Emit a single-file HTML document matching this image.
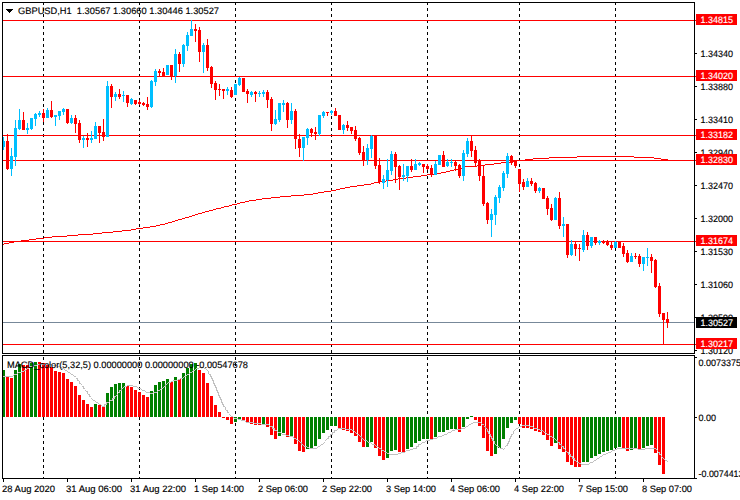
<!DOCTYPE html>
<html><head><meta charset="utf-8"><title>GBPUSD,H1</title>
<style>html,body{margin:0;padding:0;background:#fff;}body{width:740px;height:500px;overflow:hidden;font-family:"Liberation Sans",sans-serif;}svg{display:block}</style></head>
<body>
<svg width="740" height="500" viewBox="0 0 740 500" shape-rendering="crispEdges">
<rect x="0" y="0" width="740" height="500" fill="#fff"/>
<line x1="43.5" y1="2" x2="43.5" y2="353" stroke="#000" stroke-width="1" stroke-dasharray="3,3"/>
<line x1="43.5" y1="355" x2="43.5" y2="478" stroke="#000" stroke-width="1" stroke-dasharray="3,3" stroke-dashoffset="4"/>
<line x1="139.5" y1="2" x2="139.5" y2="353" stroke="#000" stroke-width="1" stroke-dasharray="3,3"/>
<line x1="139.5" y1="355" x2="139.5" y2="478" stroke="#000" stroke-width="1" stroke-dasharray="3,3" stroke-dashoffset="4"/>
<line x1="235.5" y1="2" x2="235.5" y2="353" stroke="#000" stroke-width="1" stroke-dasharray="3,3"/>
<line x1="235.5" y1="355" x2="235.5" y2="478" stroke="#000" stroke-width="1" stroke-dasharray="3,3" stroke-dashoffset="4"/>
<line x1="331.5" y1="2" x2="331.5" y2="353" stroke="#000" stroke-width="1" stroke-dasharray="3,3"/>
<line x1="331.5" y1="355" x2="331.5" y2="478" stroke="#000" stroke-width="1" stroke-dasharray="3,3" stroke-dashoffset="4"/>
<line x1="427.5" y1="2" x2="427.5" y2="353" stroke="#000" stroke-width="1" stroke-dasharray="3,3"/>
<line x1="427.5" y1="355" x2="427.5" y2="478" stroke="#000" stroke-width="1" stroke-dasharray="3,3" stroke-dashoffset="4"/>
<line x1="519.5" y1="2" x2="519.5" y2="353" stroke="#000" stroke-width="1" stroke-dasharray="3,3"/>
<line x1="519.5" y1="355" x2="519.5" y2="478" stroke="#000" stroke-width="1" stroke-dasharray="3,3" stroke-dashoffset="4"/>
<line x1="615.5" y1="2" x2="615.5" y2="353" stroke="#000" stroke-width="1" stroke-dasharray="3,3"/>
<line x1="615.5" y1="355" x2="615.5" y2="478" stroke="#000" stroke-width="1" stroke-dasharray="3,3" stroke-dashoffset="4"/>
<rect x="3" y="20" width="691" height="1" fill="#ff0000"/>
<rect x="3" y="76" width="691" height="1" fill="#ff0000"/>
<rect x="3" y="135" width="691" height="1" fill="#ff0000"/>
<rect x="3" y="160" width="691" height="1" fill="#ff0000"/>
<rect x="3" y="241" width="691" height="1" fill="#ff0000"/>
<rect x="3" y="344" width="691" height="1" fill="#ff0000"/>
<rect x="3" y="244" width="1" height="1" fill="#ff0000"/>
<rect x="4" y="243" width="5" height="1" fill="#ff0000"/>
<rect x="9" y="242" width="5" height="1" fill="#ff0000"/>
<rect x="14" y="241" width="7" height="1" fill="#ff0000"/>
<rect x="21" y="240" width="8" height="1" fill="#ff0000"/>
<rect x="29" y="239" width="7" height="1" fill="#ff0000"/>
<rect x="36" y="238" width="8" height="1" fill="#ff0000"/>
<rect x="44" y="237" width="8" height="1" fill="#ff0000"/>
<rect x="52" y="236" width="15" height="1" fill="#ff0000"/>
<rect x="67" y="235" width="11" height="1" fill="#ff0000"/>
<rect x="78" y="234" width="15" height="1" fill="#ff0000"/>
<rect x="93" y="233" width="9" height="1" fill="#ff0000"/>
<rect x="102" y="232" width="11" height="1" fill="#ff0000"/>
<rect x="113" y="231" width="9" height="1" fill="#ff0000"/>
<rect x="122" y="230" width="9" height="1" fill="#ff0000"/>
<rect x="131" y="229" width="5" height="1" fill="#ff0000"/>
<rect x="136" y="228" width="7" height="1" fill="#ff0000"/>
<rect x="143" y="227" width="7" height="1" fill="#ff0000"/>
<rect x="150" y="226" width="6" height="1" fill="#ff0000"/>
<rect x="156" y="225" width="4" height="1" fill="#ff0000"/>
<rect x="160" y="224" width="5" height="1" fill="#ff0000"/>
<rect x="165" y="223" width="3" height="1" fill="#ff0000"/>
<rect x="168" y="222" width="4" height="1" fill="#ff0000"/>
<rect x="172" y="221" width="3" height="1" fill="#ff0000"/>
<rect x="175" y="220" width="3" height="1" fill="#ff0000"/>
<rect x="178" y="219" width="4" height="1" fill="#ff0000"/>
<rect x="182" y="218" width="3" height="1" fill="#ff0000"/>
<rect x="185" y="217" width="4" height="1" fill="#ff0000"/>
<rect x="189" y="216" width="3" height="1" fill="#ff0000"/>
<rect x="192" y="215" width="3" height="1" fill="#ff0000"/>
<rect x="195" y="214" width="3" height="1" fill="#ff0000"/>
<rect x="198" y="213" width="4" height="1" fill="#ff0000"/>
<rect x="202" y="212" width="3" height="1" fill="#ff0000"/>
<rect x="205" y="211" width="4" height="1" fill="#ff0000"/>
<rect x="209" y="210" width="4" height="1" fill="#ff0000"/>
<rect x="213" y="209" width="3" height="1" fill="#ff0000"/>
<rect x="216" y="208" width="5" height="1" fill="#ff0000"/>
<rect x="221" y="207" width="3" height="1" fill="#ff0000"/>
<rect x="224" y="206" width="5" height="1" fill="#ff0000"/>
<rect x="229" y="205" width="3" height="1" fill="#ff0000"/>
<rect x="232" y="204" width="5" height="1" fill="#ff0000"/>
<rect x="237" y="203" width="3" height="1" fill="#ff0000"/>
<rect x="240" y="202" width="5" height="1" fill="#ff0000"/>
<rect x="245" y="201" width="4" height="1" fill="#ff0000"/>
<rect x="249" y="200" width="7" height="1" fill="#ff0000"/>
<rect x="256" y="199" width="6" height="1" fill="#ff0000"/>
<rect x="262" y="198" width="9" height="1" fill="#ff0000"/>
<rect x="271" y="197" width="9" height="1" fill="#ff0000"/>
<rect x="280" y="196" width="11" height="1" fill="#ff0000"/>
<rect x="291" y="195" width="13" height="1" fill="#ff0000"/>
<rect x="304" y="194" width="9" height="1" fill="#ff0000"/>
<rect x="313" y="193" width="5" height="1" fill="#ff0000"/>
<rect x="318" y="192" width="6" height="1" fill="#ff0000"/>
<rect x="324" y="191" width="7" height="1" fill="#ff0000"/>
<rect x="331" y="190" width="5" height="1" fill="#ff0000"/>
<rect x="336" y="189" width="4" height="1" fill="#ff0000"/>
<rect x="340" y="188" width="5" height="1" fill="#ff0000"/>
<rect x="345" y="187" width="5" height="1" fill="#ff0000"/>
<rect x="350" y="186" width="7" height="1" fill="#ff0000"/>
<rect x="357" y="185" width="7" height="1" fill="#ff0000"/>
<rect x="364" y="184" width="7" height="1" fill="#ff0000"/>
<rect x="371" y="183" width="3" height="1" fill="#ff0000"/>
<rect x="374" y="182" width="6" height="1" fill="#ff0000"/>
<rect x="380" y="181" width="6" height="1" fill="#ff0000"/>
<rect x="386" y="180" width="7" height="1" fill="#ff0000"/>
<rect x="393" y="179" width="5" height="1" fill="#ff0000"/>
<rect x="398" y="178" width="8" height="1" fill="#ff0000"/>
<rect x="406" y="177" width="7" height="1" fill="#ff0000"/>
<rect x="413" y="176" width="8" height="1" fill="#ff0000"/>
<rect x="421" y="175" width="6" height="1" fill="#ff0000"/>
<rect x="427" y="174" width="8" height="1" fill="#ff0000"/>
<rect x="435" y="173" width="6" height="1" fill="#ff0000"/>
<rect x="441" y="172" width="5" height="1" fill="#ff0000"/>
<rect x="446" y="171" width="4" height="1" fill="#ff0000"/>
<rect x="450" y="170" width="4" height="1" fill="#ff0000"/>
<rect x="454" y="169" width="4" height="1" fill="#ff0000"/>
<rect x="458" y="168" width="5" height="1" fill="#ff0000"/>
<rect x="463" y="167" width="2" height="1" fill="#ff0000"/>
<rect x="465" y="166" width="12" height="1" fill="#ff0000"/>
<rect x="477" y="165" width="8" height="1" fill="#ff0000"/>
<rect x="485" y="164" width="9" height="1" fill="#ff0000"/>
<rect x="494" y="163" width="7" height="1" fill="#ff0000"/>
<rect x="501" y="162" width="9" height="1" fill="#ff0000"/>
<rect x="510" y="161" width="7" height="1" fill="#ff0000"/>
<rect x="517" y="160" width="8" height="1" fill="#ff0000"/>
<rect x="525" y="159" width="8" height="1" fill="#ff0000"/>
<rect x="533" y="158" width="16" height="1" fill="#ff0000"/>
<rect x="549" y="157" width="28" height="1" fill="#ff0000"/>
<rect x="577" y="156" width="57" height="1" fill="#ff0000"/>
<rect x="634" y="157" width="20" height="1" fill="#ff0000"/>
<rect x="654" y="158" width="7" height="1" fill="#ff0000"/>
<rect x="661" y="159" width="7" height="1" fill="#ff0000"/>
<rect x="3" y="322" width="691" height="1" fill="#778899"/>
<rect x="3" y="137" width="1" height="13" fill="#00bfff"/>
<rect x="2" y="141" width="3" height="6" fill="#00bfff"/>
<rect x="7" y="134" width="1" height="36" fill="#ff0000"/>
<rect x="6" y="141" width="3" height="28" fill="#ff0000"/>
<rect x="11" y="148" width="1" height="28" fill="#00bfff"/>
<rect x="10" y="156" width="3" height="13" fill="#00bfff"/>
<rect x="15" y="120" width="1" height="46" fill="#00bfff"/>
<rect x="14" y="128" width="3" height="29" fill="#00bfff"/>
<rect x="19" y="109" width="1" height="21" fill="#00bfff"/>
<rect x="18" y="120" width="3" height="9" fill="#00bfff"/>
<rect x="23" y="112" width="1" height="18" fill="#ff0000"/>
<rect x="22" y="120" width="3" height="10" fill="#ff0000"/>
<rect x="27" y="123" width="1" height="11" fill="#00bfff"/>
<rect x="26" y="128" width="3" height="2" fill="#00bfff"/>
<rect x="31" y="118" width="1" height="12" fill="#00bfff"/>
<rect x="30" y="118" width="3" height="11" fill="#00bfff"/>
<rect x="35" y="113" width="1" height="13" fill="#00bfff"/>
<rect x="34" y="114" width="3" height="5" fill="#00bfff"/>
<rect x="39" y="111" width="1" height="6" fill="#00bfff"/>
<rect x="38" y="113" width="3" height="2" fill="#00bfff"/>
<rect x="43" y="109" width="1" height="13" fill="#ff0000"/>
<rect x="42" y="113" width="3" height="5" fill="#ff0000"/>
<rect x="47" y="108" width="1" height="10" fill="#00bfff"/>
<rect x="46" y="110" width="3" height="8" fill="#00bfff"/>
<rect x="51" y="101" width="1" height="17" fill="#ff0000"/>
<rect x="50" y="110" width="3" height="7" fill="#ff0000"/>
<rect x="55" y="115" width="1" height="11" fill="#00bfff"/>
<rect x="54" y="115" width="3" height="2" fill="#00bfff"/>
<rect x="59" y="111" width="1" height="9" fill="#00bfff"/>
<rect x="58" y="111" width="3" height="5" fill="#00bfff"/>
<rect x="63" y="108" width="1" height="7" fill="#00bfff"/>
<rect x="62" y="109" width="3" height="3" fill="#00bfff"/>
<rect x="67" y="109" width="1" height="15" fill="#ff0000"/>
<rect x="66" y="109" width="3" height="14" fill="#ff0000"/>
<rect x="71" y="115" width="1" height="9" fill="#00bfff"/>
<rect x="70" y="118" width="3" height="5" fill="#00bfff"/>
<rect x="75" y="115" width="1" height="18" fill="#ff0000"/>
<rect x="74" y="118" width="3" height="6" fill="#ff0000"/>
<rect x="79" y="120" width="1" height="23" fill="#ff0000"/>
<rect x="78" y="123" width="3" height="17" fill="#ff0000"/>
<rect x="83" y="136" width="1" height="12" fill="#00bfff"/>
<rect x="82" y="138" width="3" height="2" fill="#00bfff"/>
<rect x="87" y="133" width="1" height="14" fill="#ff0000"/>
<rect x="86" y="138" width="3" height="2" fill="#ff0000"/>
<rect x="91" y="131" width="1" height="12" fill="#00bfff"/>
<rect x="90" y="138" width="3" height="2" fill="#00bfff"/>
<rect x="95" y="122" width="1" height="17" fill="#00bfff"/>
<rect x="94" y="126" width="3" height="13" fill="#00bfff"/>
<rect x="99" y="126" width="1" height="17" fill="#ff0000"/>
<rect x="98" y="126" width="3" height="7" fill="#ff0000"/>
<rect x="103" y="119" width="1" height="22" fill="#ff0000"/>
<rect x="102" y="132" width="3" height="5" fill="#ff0000"/>
<rect x="107" y="81" width="1" height="56" fill="#00bfff"/>
<rect x="106" y="86" width="3" height="51" fill="#00bfff"/>
<rect x="111" y="84" width="1" height="24" fill="#ff0000"/>
<rect x="110" y="86" width="3" height="11" fill="#ff0000"/>
<rect x="115" y="92" width="1" height="9" fill="#00bfff"/>
<rect x="114" y="94" width="3" height="3" fill="#00bfff"/>
<rect x="119" y="89" width="1" height="10" fill="#ff0000"/>
<rect x="118" y="94" width="3" height="3" fill="#ff0000"/>
<rect x="123" y="91" width="1" height="11" fill="#00bfff"/>
<rect x="122" y="95" width="3" height="1" fill="#00bfff"/>
<rect x="127" y="95" width="1" height="12" fill="#ff0000"/>
<rect x="126" y="95" width="3" height="8" fill="#ff0000"/>
<rect x="131" y="98" width="1" height="7" fill="#00bfff"/>
<rect x="130" y="99" width="3" height="5" fill="#00bfff"/>
<rect x="135" y="100" width="1" height="5" fill="#ff0000"/>
<rect x="134" y="100" width="3" height="4" fill="#ff0000"/>
<rect x="139" y="100" width="1" height="5" fill="#ff0000"/>
<rect x="138" y="102" width="3" height="2" fill="#ff0000"/>
<rect x="143" y="102" width="1" height="4" fill="#ff0000"/>
<rect x="142" y="103" width="3" height="2" fill="#ff0000"/>
<rect x="147" y="97" width="1" height="13" fill="#ff0000"/>
<rect x="146" y="104" width="3" height="3" fill="#ff0000"/>
<rect x="151" y="80" width="1" height="28" fill="#00bfff"/>
<rect x="150" y="81" width="3" height="26" fill="#00bfff"/>
<rect x="155" y="69" width="1" height="17" fill="#00bfff"/>
<rect x="154" y="71" width="3" height="11" fill="#00bfff"/>
<rect x="159" y="69" width="1" height="7" fill="#ff0000"/>
<rect x="158" y="71" width="3" height="2" fill="#ff0000"/>
<rect x="163" y="68" width="1" height="8" fill="#ff0000"/>
<rect x="162" y="72" width="3" height="4" fill="#ff0000"/>
<rect x="167" y="65" width="1" height="10" fill="#00bfff"/>
<rect x="166" y="65" width="3" height="10" fill="#00bfff"/>
<rect x="171" y="65" width="1" height="15" fill="#ff0000"/>
<rect x="170" y="65" width="3" height="11" fill="#ff0000"/>
<rect x="175" y="49" width="1" height="34" fill="#00bfff"/>
<rect x="174" y="54" width="3" height="22" fill="#00bfff"/>
<rect x="179" y="52" width="1" height="20" fill="#ff0000"/>
<rect x="178" y="54" width="3" height="10" fill="#ff0000"/>
<rect x="183" y="44" width="1" height="23" fill="#00bfff"/>
<rect x="182" y="45" width="3" height="19" fill="#00bfff"/>
<rect x="187" y="32" width="1" height="19" fill="#00bfff"/>
<rect x="186" y="35" width="3" height="11" fill="#00bfff"/>
<rect x="191" y="20" width="1" height="16" fill="#00bfff"/>
<rect x="190" y="29" width="3" height="7" fill="#00bfff"/>
<rect x="195" y="24" width="1" height="18" fill="#ff0000"/>
<rect x="194" y="29" width="3" height="2" fill="#ff0000"/>
<rect x="199" y="27" width="1" height="35" fill="#ff0000"/>
<rect x="198" y="30" width="3" height="22" fill="#ff0000"/>
<rect x="203" y="43" width="1" height="30" fill="#00bfff"/>
<rect x="202" y="45" width="3" height="7" fill="#00bfff"/>
<rect x="207" y="39" width="1" height="32" fill="#ff0000"/>
<rect x="206" y="45" width="3" height="23" fill="#ff0000"/>
<rect x="211" y="66" width="1" height="22" fill="#ff0000"/>
<rect x="210" y="67" width="3" height="17" fill="#ff0000"/>
<rect x="215" y="81" width="1" height="19" fill="#ff0000"/>
<rect x="214" y="83" width="3" height="7" fill="#ff0000"/>
<rect x="219" y="84" width="1" height="12" fill="#ff0000"/>
<rect x="218" y="89" width="3" height="1" fill="#ff0000"/>
<rect x="223" y="89" width="1" height="10" fill="#ff0000"/>
<rect x="222" y="89" width="3" height="2" fill="#ff0000"/>
<rect x="227" y="87" width="1" height="8" fill="#00bfff"/>
<rect x="226" y="89" width="3" height="2" fill="#00bfff"/>
<rect x="231" y="87" width="1" height="11" fill="#ff0000"/>
<rect x="230" y="90" width="3" height="7" fill="#ff0000"/>
<rect x="235" y="84" width="1" height="11" fill="#00bfff"/>
<rect x="234" y="84" width="3" height="11" fill="#00bfff"/>
<rect x="239" y="77" width="1" height="9" fill="#00bfff"/>
<rect x="238" y="78" width="3" height="7" fill="#00bfff"/>
<rect x="243" y="78" width="1" height="14" fill="#ff0000"/>
<rect x="242" y="78" width="3" height="14" fill="#ff0000"/>
<rect x="247" y="89" width="1" height="14" fill="#ff0000"/>
<rect x="246" y="91" width="3" height="3" fill="#ff0000"/>
<rect x="251" y="91" width="1" height="6" fill="#00bfff"/>
<rect x="250" y="92" width="3" height="3" fill="#00bfff"/>
<rect x="255" y="91" width="1" height="11" fill="#ff0000"/>
<rect x="254" y="92" width="3" height="2" fill="#ff0000"/>
<rect x="259" y="91" width="1" height="6" fill="#00bfff"/>
<rect x="258" y="93" width="3" height="1" fill="#00bfff"/>
<rect x="263" y="90" width="1" height="7" fill="#00bfff"/>
<rect x="262" y="92" width="3" height="2" fill="#00bfff"/>
<rect x="267" y="90" width="1" height="18" fill="#ff0000"/>
<rect x="266" y="92" width="3" height="8" fill="#ff0000"/>
<rect x="271" y="97" width="1" height="34" fill="#ff0000"/>
<rect x="270" y="99" width="3" height="25" fill="#ff0000"/>
<rect x="275" y="110" width="1" height="15" fill="#00bfff"/>
<rect x="274" y="119" width="3" height="5" fill="#00bfff"/>
<rect x="279" y="103" width="1" height="19" fill="#00bfff"/>
<rect x="278" y="103" width="3" height="17" fill="#00bfff"/>
<rect x="283" y="100" width="1" height="12" fill="#00bfff"/>
<rect x="282" y="103" width="3" height="2" fill="#00bfff"/>
<rect x="287" y="102" width="1" height="26" fill="#ff0000"/>
<rect x="286" y="103" width="3" height="17" fill="#ff0000"/>
<rect x="291" y="103" width="1" height="21" fill="#00bfff"/>
<rect x="290" y="111" width="3" height="9" fill="#00bfff"/>
<rect x="295" y="109" width="1" height="40" fill="#ff0000"/>
<rect x="294" y="111" width="3" height="28" fill="#ff0000"/>
<rect x="299" y="134" width="1" height="23" fill="#ff0000"/>
<rect x="298" y="139" width="3" height="9" fill="#ff0000"/>
<rect x="303" y="137" width="1" height="24" fill="#00bfff"/>
<rect x="302" y="137" width="3" height="11" fill="#00bfff"/>
<rect x="307" y="128" width="1" height="17" fill="#00bfff"/>
<rect x="306" y="129" width="3" height="9" fill="#00bfff"/>
<rect x="311" y="128" width="1" height="9" fill="#ff0000"/>
<rect x="310" y="129" width="3" height="4" fill="#ff0000"/>
<rect x="315" y="127" width="1" height="13" fill="#ff0000"/>
<rect x="314" y="132" width="3" height="2" fill="#ff0000"/>
<rect x="319" y="115" width="1" height="21" fill="#00bfff"/>
<rect x="318" y="115" width="3" height="19" fill="#00bfff"/>
<rect x="323" y="111" width="1" height="7" fill="#00bfff"/>
<rect x="322" y="112" width="3" height="4" fill="#00bfff"/>
<rect x="327" y="112" width="1" height="4" fill="#ff0000"/>
<rect x="326" y="112" width="3" height="1" fill="#ff0000"/>
<rect x="331" y="110" width="1" height="5" fill="#00bfff"/>
<rect x="330" y="111" width="3" height="2" fill="#00bfff"/>
<rect x="335" y="108" width="1" height="8" fill="#ff0000"/>
<rect x="334" y="111" width="3" height="5" fill="#ff0000"/>
<rect x="339" y="115" width="1" height="15" fill="#ff0000"/>
<rect x="338" y="115" width="3" height="15" fill="#ff0000"/>
<rect x="343" y="124" width="1" height="10" fill="#00bfff"/>
<rect x="342" y="125" width="3" height="5" fill="#00bfff"/>
<rect x="347" y="121" width="1" height="10" fill="#ff0000"/>
<rect x="346" y="125" width="3" height="3" fill="#ff0000"/>
<rect x="351" y="127" width="1" height="7" fill="#ff0000"/>
<rect x="350" y="127" width="3" height="4" fill="#ff0000"/>
<rect x="355" y="126" width="1" height="15" fill="#ff0000"/>
<rect x="354" y="130" width="3" height="9" fill="#ff0000"/>
<rect x="359" y="137" width="1" height="18" fill="#ff0000"/>
<rect x="358" y="138" width="3" height="15" fill="#ff0000"/>
<rect x="363" y="146" width="1" height="20" fill="#ff0000"/>
<rect x="362" y="152" width="3" height="9" fill="#ff0000"/>
<rect x="367" y="144" width="1" height="21" fill="#00bfff"/>
<rect x="366" y="148" width="3" height="12" fill="#00bfff"/>
<rect x="371" y="135" width="1" height="23" fill="#00bfff"/>
<rect x="370" y="136" width="3" height="13" fill="#00bfff"/>
<rect x="375" y="136" width="1" height="33" fill="#ff0000"/>
<rect x="374" y="136" width="3" height="30" fill="#ff0000"/>
<rect x="379" y="158" width="1" height="26" fill="#ff0000"/>
<rect x="378" y="165" width="3" height="17" fill="#ff0000"/>
<rect x="383" y="175" width="1" height="14" fill="#00bfff"/>
<rect x="382" y="179" width="3" height="4" fill="#00bfff"/>
<rect x="387" y="159" width="1" height="28" fill="#00bfff"/>
<rect x="386" y="170" width="3" height="10" fill="#00bfff"/>
<rect x="391" y="151" width="1" height="24" fill="#00bfff"/>
<rect x="390" y="154" width="3" height="17" fill="#00bfff"/>
<rect x="395" y="152" width="1" height="31" fill="#ff0000"/>
<rect x="394" y="154" width="3" height="13" fill="#ff0000"/>
<rect x="399" y="165" width="1" height="25" fill="#ff0000"/>
<rect x="398" y="166" width="3" height="11" fill="#ff0000"/>
<rect x="403" y="164" width="1" height="17" fill="#00bfff"/>
<rect x="402" y="175" width="3" height="2" fill="#00bfff"/>
<rect x="407" y="166" width="1" height="16" fill="#00bfff"/>
<rect x="406" y="166" width="3" height="10" fill="#00bfff"/>
<rect x="411" y="159" width="1" height="13" fill="#ff0000"/>
<rect x="410" y="166" width="3" height="4" fill="#ff0000"/>
<rect x="415" y="159" width="1" height="11" fill="#00bfff"/>
<rect x="414" y="164" width="3" height="6" fill="#00bfff"/>
<rect x="419" y="162" width="1" height="4" fill="#00bfff"/>
<rect x="418" y="163" width="3" height="2" fill="#00bfff"/>
<rect x="423" y="164" width="1" height="9" fill="#ff0000"/>
<rect x="422" y="164" width="3" height="3" fill="#ff0000"/>
<rect x="427" y="164" width="1" height="6" fill="#ff0000"/>
<rect x="426" y="166" width="3" height="3" fill="#ff0000"/>
<rect x="431" y="165" width="1" height="12" fill="#ff0000"/>
<rect x="430" y="168" width="3" height="7" fill="#ff0000"/>
<rect x="435" y="161" width="1" height="14" fill="#00bfff"/>
<rect x="434" y="164" width="3" height="11" fill="#00bfff"/>
<rect x="439" y="155" width="1" height="10" fill="#00bfff"/>
<rect x="438" y="155" width="3" height="10" fill="#00bfff"/>
<rect x="443" y="151" width="1" height="16" fill="#ff0000"/>
<rect x="442" y="155" width="3" height="12" fill="#ff0000"/>
<rect x="447" y="159" width="1" height="8" fill="#00bfff"/>
<rect x="446" y="162" width="3" height="4" fill="#00bfff"/>
<rect x="451" y="159" width="1" height="8" fill="#00bfff"/>
<rect x="450" y="162" width="3" height="1" fill="#00bfff"/>
<rect x="455" y="161" width="1" height="10" fill="#ff0000"/>
<rect x="454" y="162" width="3" height="4" fill="#ff0000"/>
<rect x="459" y="164" width="1" height="14" fill="#ff0000"/>
<rect x="458" y="165" width="3" height="11" fill="#ff0000"/>
<rect x="463" y="150" width="1" height="31" fill="#00bfff"/>
<rect x="462" y="153" width="3" height="23" fill="#00bfff"/>
<rect x="467" y="138" width="1" height="19" fill="#00bfff"/>
<rect x="466" y="141" width="3" height="13" fill="#00bfff"/>
<rect x="471" y="136" width="1" height="21" fill="#ff0000"/>
<rect x="470" y="141" width="3" height="10" fill="#ff0000"/>
<rect x="475" y="146" width="1" height="20" fill="#ff0000"/>
<rect x="474" y="150" width="3" height="13" fill="#ff0000"/>
<rect x="479" y="159" width="1" height="22" fill="#ff0000"/>
<rect x="478" y="161" width="3" height="15" fill="#ff0000"/>
<rect x="483" y="165" width="1" height="41" fill="#ff0000"/>
<rect x="482" y="176" width="3" height="28" fill="#ff0000"/>
<rect x="487" y="202" width="1" height="22" fill="#ff0000"/>
<rect x="486" y="203" width="3" height="17" fill="#ff0000"/>
<rect x="491" y="209" width="1" height="28" fill="#00bfff"/>
<rect x="490" y="214" width="3" height="6" fill="#00bfff"/>
<rect x="495" y="195" width="1" height="30" fill="#00bfff"/>
<rect x="494" y="197" width="3" height="18" fill="#00bfff"/>
<rect x="499" y="185" width="1" height="18" fill="#00bfff"/>
<rect x="498" y="187" width="3" height="11" fill="#00bfff"/>
<rect x="503" y="171" width="1" height="20" fill="#00bfff"/>
<rect x="502" y="173" width="3" height="15" fill="#00bfff"/>
<rect x="507" y="153" width="1" height="25" fill="#00bfff"/>
<rect x="506" y="156" width="3" height="18" fill="#00bfff"/>
<rect x="511" y="155" width="1" height="10" fill="#ff0000"/>
<rect x="510" y="156" width="3" height="7" fill="#ff0000"/>
<rect x="515" y="160" width="1" height="8" fill="#ff0000"/>
<rect x="514" y="161" width="3" height="5" fill="#ff0000"/>
<rect x="519" y="169" width="1" height="23" fill="#ff0000"/>
<rect x="518" y="169" width="3" height="15" fill="#ff0000"/>
<rect x="523" y="179" width="1" height="11" fill="#ff0000"/>
<rect x="522" y="182" width="3" height="5" fill="#ff0000"/>
<rect x="527" y="178" width="1" height="9" fill="#00bfff"/>
<rect x="526" y="181" width="3" height="6" fill="#00bfff"/>
<rect x="531" y="178" width="1" height="8" fill="#ff0000"/>
<rect x="530" y="181" width="3" height="3" fill="#ff0000"/>
<rect x="535" y="182" width="1" height="11" fill="#ff0000"/>
<rect x="534" y="183" width="3" height="8" fill="#ff0000"/>
<rect x="539" y="187" width="1" height="6" fill="#00bfff"/>
<rect x="538" y="188" width="3" height="3" fill="#00bfff"/>
<rect x="543" y="188" width="1" height="11" fill="#ff0000"/>
<rect x="542" y="188" width="3" height="11" fill="#ff0000"/>
<rect x="547" y="196" width="1" height="19" fill="#ff0000"/>
<rect x="546" y="198" width="3" height="11" fill="#ff0000"/>
<rect x="551" y="204" width="1" height="17" fill="#ff0000"/>
<rect x="550" y="208" width="3" height="12" fill="#ff0000"/>
<rect x="555" y="197" width="1" height="23" fill="#00bfff"/>
<rect x="554" y="198" width="3" height="22" fill="#00bfff"/>
<rect x="559" y="192" width="1" height="37" fill="#ff0000"/>
<rect x="558" y="198" width="3" height="28" fill="#ff0000"/>
<rect x="563" y="217" width="1" height="20" fill="#00bfff"/>
<rect x="562" y="224" width="3" height="2" fill="#00bfff"/>
<rect x="567" y="224" width="1" height="34" fill="#ff0000"/>
<rect x="566" y="224" width="3" height="31" fill="#ff0000"/>
<rect x="571" y="240" width="1" height="16" fill="#00bfff"/>
<rect x="570" y="244" width="3" height="11" fill="#00bfff"/>
<rect x="575" y="242" width="1" height="14" fill="#ff0000"/>
<rect x="574" y="244" width="3" height="5" fill="#ff0000"/>
<rect x="579" y="244" width="1" height="17" fill="#ff0000"/>
<rect x="578" y="248" width="3" height="1" fill="#ff0000"/>
<rect x="583" y="230" width="1" height="22" fill="#00bfff"/>
<rect x="582" y="235" width="3" height="15" fill="#00bfff"/>
<rect x="587" y="232" width="1" height="18" fill="#ff0000"/>
<rect x="586" y="235" width="3" height="11" fill="#ff0000"/>
<rect x="591" y="237" width="1" height="11" fill="#00bfff"/>
<rect x="590" y="237" width="3" height="9" fill="#00bfff"/>
<rect x="595" y="237" width="1" height="8" fill="#ff0000"/>
<rect x="594" y="237" width="3" height="6" fill="#ff0000"/>
<rect x="599" y="240" width="1" height="5" fill="#00bfff"/>
<rect x="598" y="241" width="3" height="2" fill="#00bfff"/>
<rect x="603" y="240" width="1" height="4" fill="#ff0000"/>
<rect x="602" y="241" width="3" height="2" fill="#ff0000"/>
<rect x="607" y="240" width="1" height="6" fill="#ff0000"/>
<rect x="606" y="241" width="3" height="4" fill="#ff0000"/>
<rect x="611" y="242" width="1" height="8" fill="#ff0000"/>
<rect x="610" y="245" width="3" height="3" fill="#ff0000"/>
<rect x="615" y="241" width="1" height="7" fill="#00bfff"/>
<rect x="614" y="242" width="3" height="6" fill="#00bfff"/>
<rect x="619" y="242" width="1" height="6" fill="#ff0000"/>
<rect x="618" y="242" width="3" height="6" fill="#ff0000"/>
<rect x="623" y="243" width="1" height="14" fill="#ff0000"/>
<rect x="622" y="246" width="3" height="8" fill="#ff0000"/>
<rect x="627" y="250" width="1" height="13" fill="#ff0000"/>
<rect x="626" y="253" width="3" height="9" fill="#ff0000"/>
<rect x="631" y="253" width="1" height="9" fill="#00bfff"/>
<rect x="630" y="256" width="3" height="6" fill="#00bfff"/>
<rect x="635" y="253" width="1" height="6" fill="#ff0000"/>
<rect x="634" y="256" width="3" height="1" fill="#ff0000"/>
<rect x="639" y="254" width="1" height="13" fill="#ff0000"/>
<rect x="638" y="256" width="3" height="8" fill="#ff0000"/>
<rect x="643" y="257" width="1" height="14" fill="#00bfff"/>
<rect x="642" y="257" width="3" height="7" fill="#00bfff"/>
<rect x="647" y="248" width="1" height="18" fill="#00bfff"/>
<rect x="646" y="257" width="3" height="1" fill="#00bfff"/>
<rect x="651" y="254" width="1" height="19" fill="#ff0000"/>
<rect x="650" y="257" width="3" height="4" fill="#ff0000"/>
<rect x="655" y="259" width="1" height="29" fill="#ff0000"/>
<rect x="654" y="260" width="3" height="27" fill="#ff0000"/>
<rect x="659" y="283" width="1" height="34" fill="#ff0000"/>
<rect x="658" y="286" width="3" height="28" fill="#ff0000"/>
<rect x="663" y="313" width="1" height="31" fill="#ff0000"/>
<rect x="662" y="313" width="3" height="7" fill="#ff0000"/>
<rect x="667" y="312" width="1" height="16" fill="#ff0000"/>
<rect x="666" y="319" width="3" height="4" fill="#ff0000"/>
<rect x="2" y="370" width="3" height="47" fill="#008000"/>
<rect x="6" y="377" width="3" height="40" fill="#ff0000"/>
<rect x="10" y="378" width="3" height="39" fill="#ff0000"/>
<rect x="14" y="370" width="3" height="47" fill="#008000"/>
<rect x="18" y="364" width="3" height="53" fill="#008000"/>
<rect x="22" y="365" width="3" height="52" fill="#ff0000"/>
<rect x="26" y="365" width="3" height="52" fill="#ff0000"/>
<rect x="30" y="363" width="3" height="54" fill="#008000"/>
<rect x="34" y="362" width="3" height="55" fill="#008000"/>
<rect x="38" y="362" width="3" height="55" fill="#ff0000"/>
<rect x="42" y="363" width="3" height="54" fill="#ff0000"/>
<rect x="46" y="364" width="3" height="53" fill="#ff0000"/>
<rect x="50" y="367" width="3" height="50" fill="#ff0000"/>
<rect x="54" y="371" width="3" height="46" fill="#ff0000"/>
<rect x="58" y="372" width="3" height="45" fill="#ff0000"/>
<rect x="62" y="373" width="3" height="44" fill="#ff0000"/>
<rect x="66" y="379" width="3" height="38" fill="#ff0000"/>
<rect x="70" y="382" width="3" height="35" fill="#ff0000"/>
<rect x="74" y="386" width="3" height="31" fill="#ff0000"/>
<rect x="78" y="395" width="3" height="22" fill="#ff0000"/>
<rect x="82" y="400" width="3" height="17" fill="#ff0000"/>
<rect x="86" y="404" width="3" height="13" fill="#ff0000"/>
<rect x="90" y="407" width="3" height="10" fill="#ff0000"/>
<rect x="94" y="404" width="3" height="13" fill="#008000"/>
<rect x="98" y="405" width="3" height="12" fill="#ff0000"/>
<rect x="102" y="407" width="3" height="10" fill="#ff0000"/>
<rect x="106" y="393" width="3" height="24" fill="#008000"/>
<rect x="110" y="387" width="3" height="30" fill="#008000"/>
<rect x="114" y="384" width="3" height="33" fill="#008000"/>
<rect x="118" y="383" width="3" height="34" fill="#008000"/>
<rect x="122" y="383" width="3" height="34" fill="#008000"/>
<rect x="126" y="386" width="3" height="31" fill="#ff0000"/>
<rect x="130" y="387" width="3" height="30" fill="#ff0000"/>
<rect x="134" y="390" width="3" height="27" fill="#ff0000"/>
<rect x="138" y="392" width="3" height="25" fill="#ff0000"/>
<rect x="142" y="395" width="3" height="22" fill="#ff0000"/>
<rect x="146" y="397" width="3" height="20" fill="#ff0000"/>
<rect x="150" y="391" width="3" height="26" fill="#008000"/>
<rect x="154" y="385" width="3" height="32" fill="#008000"/>
<rect x="158" y="382" width="3" height="35" fill="#008000"/>
<rect x="162" y="381" width="3" height="36" fill="#008000"/>
<rect x="166" y="379" width="3" height="38" fill="#008000"/>
<rect x="170" y="382" width="3" height="35" fill="#ff0000"/>
<rect x="174" y="377" width="3" height="40" fill="#008000"/>
<rect x="178" y="379" width="3" height="38" fill="#ff0000"/>
<rect x="182" y="373" width="3" height="44" fill="#008000"/>
<rect x="186" y="368" width="3" height="49" fill="#008000"/>
<rect x="190" y="364" width="3" height="53" fill="#008000"/>
<rect x="194" y="363" width="3" height="54" fill="#008000"/>
<rect x="198" y="370" width="3" height="47" fill="#ff0000"/>
<rect x="202" y="373" width="3" height="44" fill="#ff0000"/>
<rect x="206" y="383" width="3" height="34" fill="#ff0000"/>
<rect x="210" y="396" width="3" height="21" fill="#ff0000"/>
<rect x="214" y="405" width="3" height="12" fill="#ff0000"/>
<rect x="218" y="412" width="3" height="5" fill="#ff0000"/>
<rect x="222" y="417" width="3" height="1" fill="#ff0000"/>
<rect x="226" y="417" width="3" height="3" fill="#ff0000"/>
<rect x="230" y="417" width="3" height="7" fill="#ff0000"/>
<rect x="234" y="417" width="3" height="5" fill="#008000"/>
<rect x="238" y="417" width="3" height="2" fill="#008000"/>
<rect x="242" y="417" width="3" height="3" fill="#ff0000"/>
<rect x="246" y="417" width="3" height="6" fill="#ff0000"/>
<rect x="250" y="417" width="3" height="7" fill="#ff0000"/>
<rect x="254" y="417" width="3" height="8" fill="#ff0000"/>
<rect x="258" y="417" width="3" height="8" fill="#ff0000"/>
<rect x="262" y="417" width="3" height="8" fill="#008000"/>
<rect x="266" y="417" width="3" height="10" fill="#ff0000"/>
<rect x="270" y="417" width="3" height="18" fill="#ff0000"/>
<rect x="274" y="417" width="3" height="22" fill="#ff0000"/>
<rect x="278" y="417" width="3" height="19" fill="#008000"/>
<rect x="282" y="417" width="3" height="16" fill="#008000"/>
<rect x="286" y="417" width="3" height="20" fill="#ff0000"/>
<rect x="290" y="417" width="3" height="19" fill="#008000"/>
<rect x="294" y="417" width="3" height="27" fill="#ff0000"/>
<rect x="298" y="417" width="3" height="34" fill="#ff0000"/>
<rect x="302" y="417" width="3" height="35" fill="#ff0000"/>
<rect x="306" y="417" width="3" height="32" fill="#008000"/>
<rect x="310" y="417" width="3" height="31" fill="#008000"/>
<rect x="314" y="417" width="3" height="29" fill="#008000"/>
<rect x="318" y="417" width="3" height="22" fill="#008000"/>
<rect x="322" y="417" width="3" height="16" fill="#008000"/>
<rect x="326" y="417" width="3" height="13" fill="#008000"/>
<rect x="330" y="417" width="3" height="9" fill="#008000"/>
<rect x="334" y="417" width="3" height="9" fill="#008000"/>
<rect x="338" y="417" width="3" height="11" fill="#ff0000"/>
<rect x="342" y="417" width="3" height="13" fill="#ff0000"/>
<rect x="346" y="417" width="3" height="14" fill="#ff0000"/>
<rect x="350" y="417" width="3" height="16" fill="#ff0000"/>
<rect x="354" y="417" width="3" height="19" fill="#ff0000"/>
<rect x="358" y="417" width="3" height="25" fill="#ff0000"/>
<rect x="362" y="417" width="3" height="30" fill="#ff0000"/>
<rect x="366" y="417" width="3" height="30" fill="#008000"/>
<rect x="370" y="417" width="3" height="25" fill="#008000"/>
<rect x="374" y="417" width="3" height="31" fill="#ff0000"/>
<rect x="378" y="417" width="3" height="39" fill="#ff0000"/>
<rect x="382" y="417" width="3" height="43" fill="#ff0000"/>
<rect x="386" y="417" width="3" height="41" fill="#008000"/>
<rect x="390" y="417" width="3" height="34" fill="#008000"/>
<rect x="394" y="417" width="3" height="33" fill="#008000"/>
<rect x="398" y="417" width="3" height="35" fill="#ff0000"/>
<rect x="402" y="417" width="3" height="35" fill="#ff0000"/>
<rect x="406" y="417" width="3" height="32" fill="#008000"/>
<rect x="410" y="417" width="3" height="30" fill="#008000"/>
<rect x="414" y="417" width="3" height="26" fill="#008000"/>
<rect x="418" y="417" width="3" height="24" fill="#008000"/>
<rect x="422" y="417" width="3" height="22" fill="#008000"/>
<rect x="426" y="417" width="3" height="22" fill="#008000"/>
<rect x="430" y="417" width="3" height="22" fill="#ff0000"/>
<rect x="434" y="417" width="3" height="20" fill="#008000"/>
<rect x="438" y="417" width="3" height="15" fill="#008000"/>
<rect x="442" y="417" width="3" height="15" fill="#008000"/>
<rect x="446" y="417" width="3" height="13" fill="#008000"/>
<rect x="450" y="417" width="3" height="12" fill="#008000"/>
<rect x="454" y="417" width="3" height="12" fill="#008000"/>
<rect x="458" y="417" width="3" height="15" fill="#ff0000"/>
<rect x="462" y="417" width="3" height="10" fill="#008000"/>
<rect x="466" y="417" width="3" height="2" fill="#008000"/>
<rect x="470" y="416" width="3" height="1" fill="#008000"/>
<rect x="474" y="417" width="3" height="3" fill="#ff0000"/>
<rect x="478" y="417" width="3" height="9" fill="#ff0000"/>
<rect x="482" y="417" width="3" height="21" fill="#ff0000"/>
<rect x="486" y="417" width="3" height="34" fill="#ff0000"/>
<rect x="490" y="417" width="3" height="39" fill="#ff0000"/>
<rect x="494" y="417" width="3" height="37" fill="#008000"/>
<rect x="498" y="417" width="3" height="31" fill="#008000"/>
<rect x="502" y="417" width="3" height="22" fill="#008000"/>
<rect x="506" y="417" width="3" height="11" fill="#008000"/>
<rect x="510" y="417" width="3" height="6" fill="#008000"/>
<rect x="514" y="417" width="3" height="3" fill="#008000"/>
<rect x="518" y="417" width="3" height="7" fill="#ff0000"/>
<rect x="522" y="417" width="3" height="11" fill="#ff0000"/>
<rect x="526" y="417" width="3" height="11" fill="#ff0000"/>
<rect x="530" y="417" width="3" height="12" fill="#ff0000"/>
<rect x="534" y="417" width="3" height="14" fill="#ff0000"/>
<rect x="538" y="417" width="3" height="15" fill="#ff0000"/>
<rect x="542" y="417" width="3" height="18" fill="#ff0000"/>
<rect x="546" y="417" width="3" height="23" fill="#ff0000"/>
<rect x="550" y="417" width="3" height="29" fill="#ff0000"/>
<rect x="554" y="417" width="3" height="26" fill="#008000"/>
<rect x="558" y="417" width="3" height="32" fill="#ff0000"/>
<rect x="562" y="417" width="3" height="35" fill="#ff0000"/>
<rect x="566" y="417" width="3" height="45" fill="#ff0000"/>
<rect x="570" y="417" width="3" height="48" fill="#ff0000"/>
<rect x="574" y="417" width="3" height="50" fill="#ff0000"/>
<rect x="578" y="417" width="3" height="50" fill="#ff0000"/>
<rect x="582" y="417" width="3" height="45" fill="#008000"/>
<rect x="586" y="417" width="3" height="45" fill="#008000"/>
<rect x="590" y="417" width="3" height="41" fill="#008000"/>
<rect x="594" y="417" width="3" height="39" fill="#008000"/>
<rect x="598" y="417" width="3" height="37" fill="#008000"/>
<rect x="602" y="417" width="3" height="35" fill="#008000"/>
<rect x="606" y="417" width="3" height="34" fill="#008000"/>
<rect x="610" y="417" width="3" height="33" fill="#008000"/>
<rect x="614" y="417" width="3" height="31" fill="#008000"/>
<rect x="618" y="417" width="3" height="30" fill="#008000"/>
<rect x="622" y="417" width="3" height="31" fill="#ff0000"/>
<rect x="626" y="417" width="3" height="34" fill="#ff0000"/>
<rect x="630" y="417" width="3" height="33" fill="#008000"/>
<rect x="634" y="417" width="3" height="31" fill="#008000"/>
<rect x="638" y="417" width="3" height="32" fill="#ff0000"/>
<rect x="642" y="417" width="3" height="31" fill="#008000"/>
<rect x="646" y="417" width="3" height="29" fill="#008000"/>
<rect x="650" y="417" width="3" height="28" fill="#008000"/>
<rect x="654" y="417" width="3" height="36" fill="#ff0000"/>
<rect x="658" y="417" width="3" height="48" fill="#ff0000"/>
<rect x="662" y="417" width="3" height="57" fill="#ff0000"/>
<rect x="3" y="376" width="10" height="1" fill="#c0c0c0"/>
<rect x="13" y="375" width="1" height="1" fill="#c0c0c0"/>
<rect x="14" y="374" width="3" height="1" fill="#c0c0c0"/>
<rect x="17" y="373" width="1" height="1" fill="#c0c0c0"/>
<rect x="18" y="372" width="4" height="1" fill="#c0c0c0"/>
<rect x="22" y="371" width="2" height="1" fill="#c0c0c0"/>
<rect x="24" y="370" width="2" height="1" fill="#c0c0c0"/>
<rect x="26" y="369" width="1" height="1" fill="#c0c0c0"/>
<rect x="27" y="368" width="2" height="1" fill="#c0c0c0"/>
<rect x="29" y="367" width="1" height="1" fill="#c0c0c0"/>
<rect x="30" y="366" width="4" height="1" fill="#c0c0c0"/>
<rect x="34" y="365" width="3" height="1" fill="#c0c0c0"/>
<rect x="37" y="364" width="15" height="1" fill="#c0c0c0"/>
<rect x="52" y="365" width="5" height="1" fill="#c0c0c0"/>
<rect x="57" y="366" width="3" height="1" fill="#c0c0c0"/>
<rect x="60" y="367" width="2" height="1" fill="#c0c0c0"/>
<rect x="62" y="368" width="2" height="1" fill="#c0c0c0"/>
<rect x="64" y="369" width="1" height="1" fill="#c0c0c0"/>
<rect x="65" y="370" width="2" height="1" fill="#c0c0c0"/>
<rect x="67" y="371" width="1" height="1" fill="#c0c0c0"/>
<rect x="68" y="372" width="2" height="1" fill="#c0c0c0"/>
<rect x="70" y="373" width="1" height="1" fill="#c0c0c0"/>
<rect x="71" y="374" width="2" height="1" fill="#c0c0c0"/>
<rect x="73" y="375" width="1" height="1" fill="#c0c0c0"/>
<rect x="74" y="376" width="2" height="1" fill="#c0c0c0"/>
<rect x="76" y="378" width="1" height="1" fill="#c0c0c0"/>
<rect x="77" y="378" width="1" height="3" fill="#c0c0c0"/>
<rect x="78" y="380" width="1" height="1" fill="#c0c0c0"/>
<rect x="79" y="381" width="1" height="3" fill="#c0c0c0"/>
<rect x="80" y="383" width="1" height="1" fill="#c0c0c0"/>
<rect x="81" y="384" width="1" height="1" fill="#c0c0c0"/>
<rect x="82" y="386" width="1" height="1" fill="#c0c0c0"/>
<rect x="83" y="386" width="1" height="3" fill="#c0c0c0"/>
<rect x="84" y="388" width="1" height="1" fill="#c0c0c0"/>
<rect x="85" y="390" width="1" height="1" fill="#c0c0c0"/>
<rect x="86" y="391" width="1" height="1" fill="#c0c0c0"/>
<rect x="87" y="391" width="1" height="3" fill="#c0c0c0"/>
<rect x="88" y="394" width="1" height="1" fill="#c0c0c0"/>
<rect x="89" y="394" width="1" height="3" fill="#c0c0c0"/>
<rect x="90" y="396" width="1" height="1" fill="#c0c0c0"/>
<rect x="91" y="398" width="1" height="1" fill="#c0c0c0"/>
<rect x="92" y="399" width="1" height="1" fill="#c0c0c0"/>
<rect x="93" y="400" width="2" height="1" fill="#c0c0c0"/>
<rect x="95" y="401" width="1" height="1" fill="#c0c0c0"/>
<rect x="96" y="402" width="2" height="1" fill="#c0c0c0"/>
<rect x="98" y="403" width="1" height="1" fill="#c0c0c0"/>
<rect x="99" y="404" width="2" height="1" fill="#c0c0c0"/>
<rect x="101" y="405" width="1" height="1" fill="#c0c0c0"/>
<rect x="102" y="406" width="2" height="1" fill="#c0c0c0"/>
<rect x="104" y="404" width="1" height="3" fill="#c0c0c0"/>
<rect x="105" y="404" width="1" height="1" fill="#c0c0c0"/>
<rect x="106" y="402" width="1" height="3" fill="#c0c0c0"/>
<rect x="107" y="402" width="2" height="1" fill="#c0c0c0"/>
<rect x="109" y="401" width="1" height="1" fill="#c0c0c0"/>
<rect x="110" y="400" width="2" height="1" fill="#c0c0c0"/>
<rect x="112" y="398" width="1" height="3" fill="#c0c0c0"/>
<rect x="113" y="398" width="1" height="1" fill="#c0c0c0"/>
<rect x="114" y="396" width="1" height="3" fill="#c0c0c0"/>
<rect x="115" y="396" width="1" height="1" fill="#c0c0c0"/>
<rect x="116" y="395" width="1" height="1" fill="#c0c0c0"/>
<rect x="117" y="394" width="1" height="1" fill="#c0c0c0"/>
<rect x="118" y="392" width="1" height="1" fill="#c0c0c0"/>
<rect x="119" y="390" width="1" height="3" fill="#c0c0c0"/>
<rect x="120" y="390" width="1" height="1" fill="#c0c0c0"/>
<rect x="121" y="388" width="1" height="3" fill="#c0c0c0"/>
<rect x="122" y="388" width="1" height="1" fill="#c0c0c0"/>
<rect x="123" y="387" width="1" height="1" fill="#c0c0c0"/>
<rect x="124" y="386" width="3" height="1" fill="#c0c0c0"/>
<rect x="127" y="385" width="6" height="1" fill="#c0c0c0"/>
<rect x="133" y="386" width="4" height="1" fill="#c0c0c0"/>
<rect x="137" y="387" width="1" height="1" fill="#c0c0c0"/>
<rect x="138" y="388" width="3" height="1" fill="#c0c0c0"/>
<rect x="141" y="389" width="1" height="1" fill="#c0c0c0"/>
<rect x="142" y="390" width="3" height="1" fill="#c0c0c0"/>
<rect x="145" y="391" width="1" height="1" fill="#c0c0c0"/>
<rect x="146" y="392" width="4" height="1" fill="#c0c0c0"/>
<rect x="150" y="393" width="3" height="1" fill="#c0c0c0"/>
<rect x="153" y="392" width="4" height="1" fill="#c0c0c0"/>
<rect x="157" y="391" width="1" height="1" fill="#c0c0c0"/>
<rect x="158" y="390" width="2" height="1" fill="#c0c0c0"/>
<rect x="160" y="389" width="1" height="1" fill="#c0c0c0"/>
<rect x="161" y="388" width="2" height="1" fill="#c0c0c0"/>
<rect x="163" y="387" width="1" height="1" fill="#c0c0c0"/>
<rect x="164" y="386" width="1" height="1" fill="#c0c0c0"/>
<rect x="165" y="384" width="1" height="3" fill="#c0c0c0"/>
<rect x="166" y="384" width="1" height="1" fill="#c0c0c0"/>
<rect x="167" y="383" width="1" height="1" fill="#c0c0c0"/>
<rect x="168" y="382" width="3" height="1" fill="#c0c0c0"/>
<rect x="171" y="381" width="2" height="1" fill="#c0c0c0"/>
<rect x="173" y="380" width="5" height="1" fill="#c0c0c0"/>
<rect x="178" y="379" width="2" height="1" fill="#c0c0c0"/>
<rect x="180" y="378" width="3" height="1" fill="#c0c0c0"/>
<rect x="183" y="377" width="1" height="1" fill="#c0c0c0"/>
<rect x="184" y="376" width="2" height="1" fill="#c0c0c0"/>
<rect x="186" y="375" width="1" height="1" fill="#c0c0c0"/>
<rect x="187" y="374" width="2" height="1" fill="#c0c0c0"/>
<rect x="189" y="373" width="1" height="1" fill="#c0c0c0"/>
<rect x="190" y="372" width="2" height="1" fill="#c0c0c0"/>
<rect x="192" y="371" width="1" height="1" fill="#c0c0c0"/>
<rect x="193" y="370" width="2" height="1" fill="#c0c0c0"/>
<rect x="195" y="369" width="1" height="1" fill="#c0c0c0"/>
<rect x="196" y="368" width="3" height="1" fill="#c0c0c0"/>
<rect x="199" y="367" width="5" height="1" fill="#c0c0c0"/>
<rect x="204" y="368" width="2" height="1" fill="#c0c0c0"/>
<rect x="206" y="369" width="1" height="1" fill="#c0c0c0"/>
<rect x="207" y="370" width="1" height="1" fill="#c0c0c0"/>
<rect x="208" y="371" width="1" height="3" fill="#c0c0c0"/>
<rect x="209" y="374" width="1" height="1" fill="#c0c0c0"/>
<rect x="210" y="374" width="1" height="3" fill="#c0c0c0"/>
<rect x="211" y="376" width="1" height="3" fill="#c0c0c0"/>
<rect x="212" y="378" width="1" height="3" fill="#c0c0c0"/>
<rect x="213" y="380" width="1" height="4" fill="#c0c0c0"/>
<rect x="214" y="383" width="1" height="3" fill="#c0c0c0"/>
<rect x="215" y="385" width="1" height="3" fill="#c0c0c0"/>
<rect x="216" y="387" width="1" height="4" fill="#c0c0c0"/>
<rect x="217" y="390" width="1" height="3" fill="#c0c0c0"/>
<rect x="218" y="392" width="1" height="4" fill="#c0c0c0"/>
<rect x="219" y="395" width="1" height="3" fill="#c0c0c0"/>
<rect x="220" y="397" width="1" height="3" fill="#c0c0c0"/>
<rect x="221" y="399" width="1" height="4" fill="#c0c0c0"/>
<rect x="222" y="402" width="1" height="3" fill="#c0c0c0"/>
<rect x="223" y="404" width="1" height="3" fill="#c0c0c0"/>
<rect x="224" y="406" width="1" height="1" fill="#c0c0c0"/>
<rect x="225" y="407" width="1" height="3" fill="#c0c0c0"/>
<rect x="226" y="410" width="1" height="1" fill="#c0c0c0"/>
<rect x="227" y="410" width="1" height="3" fill="#c0c0c0"/>
<rect x="228" y="412" width="1" height="1" fill="#c0c0c0"/>
<rect x="229" y="414" width="1" height="1" fill="#c0c0c0"/>
<rect x="230" y="415" width="1" height="1" fill="#c0c0c0"/>
<rect x="231" y="416" width="2" height="1" fill="#c0c0c0"/>
<rect x="233" y="417" width="1" height="1" fill="#c0c0c0"/>
<rect x="234" y="418" width="4" height="1" fill="#c0c0c0"/>
<rect x="238" y="419" width="3" height="1" fill="#c0c0c0"/>
<rect x="241" y="420" width="4" height="1" fill="#c0c0c0"/>
<rect x="245" y="421" width="1" height="1" fill="#c0c0c0"/>
<rect x="246" y="422" width="8" height="1" fill="#c0c0c0"/>
<rect x="254" y="423" width="7" height="1" fill="#c0c0c0"/>
<rect x="261" y="424" width="8" height="1" fill="#c0c0c0"/>
<rect x="269" y="425" width="1" height="1" fill="#c0c0c0"/>
<rect x="270" y="426" width="2" height="1" fill="#c0c0c0"/>
<rect x="272" y="426" width="1" height="3" fill="#c0c0c0"/>
<rect x="273" y="428" width="1" height="1" fill="#c0c0c0"/>
<rect x="274" y="428" width="1" height="3" fill="#c0c0c0"/>
<rect x="275" y="430" width="2" height="1" fill="#c0c0c0"/>
<rect x="277" y="431" width="1" height="1" fill="#c0c0c0"/>
<rect x="278" y="432" width="3" height="1" fill="#c0c0c0"/>
<rect x="281" y="433" width="1" height="1" fill="#c0c0c0"/>
<rect x="282" y="434" width="4" height="1" fill="#c0c0c0"/>
<rect x="286" y="435" width="3" height="1" fill="#c0c0c0"/>
<rect x="289" y="436" width="4" height="1" fill="#c0c0c0"/>
<rect x="293" y="437" width="1" height="1" fill="#c0c0c0"/>
<rect x="294" y="438" width="2" height="1" fill="#c0c0c0"/>
<rect x="296" y="439" width="1" height="1" fill="#c0c0c0"/>
<rect x="297" y="440" width="2" height="1" fill="#c0c0c0"/>
<rect x="299" y="441" width="1" height="1" fill="#c0c0c0"/>
<rect x="300" y="442" width="1" height="1" fill="#c0c0c0"/>
<rect x="301" y="442" width="1" height="3" fill="#c0c0c0"/>
<rect x="302" y="444" width="1" height="1" fill="#c0c0c0"/>
<rect x="303" y="445" width="1" height="1" fill="#c0c0c0"/>
<rect x="304" y="446" width="3" height="1" fill="#c0c0c0"/>
<rect x="307" y="447" width="2" height="1" fill="#c0c0c0"/>
<rect x="309" y="448" width="8" height="1" fill="#c0c0c0"/>
<rect x="317" y="447" width="1" height="1" fill="#c0c0c0"/>
<rect x="318" y="446" width="2" height="1" fill="#c0c0c0"/>
<rect x="320" y="445" width="1" height="1" fill="#c0c0c0"/>
<rect x="321" y="444" width="2" height="1" fill="#c0c0c0"/>
<rect x="323" y="443" width="1" height="1" fill="#c0c0c0"/>
<rect x="324" y="442" width="1" height="1" fill="#c0c0c0"/>
<rect x="325" y="440" width="1" height="1" fill="#c0c0c0"/>
<rect x="326" y="439" width="1" height="1" fill="#c0c0c0"/>
<rect x="327" y="438" width="1" height="1" fill="#c0c0c0"/>
<rect x="328" y="436" width="1" height="3" fill="#c0c0c0"/>
<rect x="329" y="436" width="1" height="1" fill="#c0c0c0"/>
<rect x="330" y="434" width="1" height="3" fill="#c0c0c0"/>
<rect x="331" y="434" width="1" height="1" fill="#c0c0c0"/>
<rect x="332" y="432" width="1" height="3" fill="#c0c0c0"/>
<rect x="333" y="432" width="1" height="1" fill="#c0c0c0"/>
<rect x="334" y="430" width="1" height="3" fill="#c0c0c0"/>
<rect x="335" y="430" width="2" height="1" fill="#c0c0c0"/>
<rect x="337" y="429" width="1" height="1" fill="#c0c0c0"/>
<rect x="338" y="428" width="8" height="1" fill="#c0c0c0"/>
<rect x="346" y="429" width="6" height="1" fill="#c0c0c0"/>
<rect x="352" y="430" width="2" height="1" fill="#c0c0c0"/>
<rect x="354" y="431" width="1" height="1" fill="#c0c0c0"/>
<rect x="355" y="432" width="1" height="1" fill="#c0c0c0"/>
<rect x="356" y="433" width="1" height="1" fill="#c0c0c0"/>
<rect x="357" y="434" width="2" height="1" fill="#c0c0c0"/>
<rect x="359" y="435" width="1" height="1" fill="#c0c0c0"/>
<rect x="360" y="436" width="1" height="1" fill="#c0c0c0"/>
<rect x="361" y="436" width="1" height="3" fill="#c0c0c0"/>
<rect x="362" y="438" width="1" height="1" fill="#c0c0c0"/>
<rect x="363" y="439" width="1" height="1" fill="#c0c0c0"/>
<rect x="364" y="440" width="3" height="1" fill="#c0c0c0"/>
<rect x="367" y="441" width="1" height="1" fill="#c0c0c0"/>
<rect x="368" y="442" width="3" height="1" fill="#c0c0c0"/>
<rect x="371" y="443" width="1" height="1" fill="#c0c0c0"/>
<rect x="372" y="444" width="3" height="1" fill="#c0c0c0"/>
<rect x="375" y="445" width="1" height="1" fill="#c0c0c0"/>
<rect x="376" y="446" width="2" height="1" fill="#c0c0c0"/>
<rect x="378" y="447" width="1" height="1" fill="#c0c0c0"/>
<rect x="379" y="448" width="2" height="1" fill="#c0c0c0"/>
<rect x="381" y="449" width="1" height="1" fill="#c0c0c0"/>
<rect x="382" y="450" width="2" height="1" fill="#c0c0c0"/>
<rect x="384" y="451" width="1" height="1" fill="#c0c0c0"/>
<rect x="385" y="452" width="2" height="1" fill="#c0c0c0"/>
<rect x="387" y="453" width="2" height="1" fill="#c0c0c0"/>
<rect x="389" y="454" width="9" height="1" fill="#c0c0c0"/>
<rect x="398" y="453" width="3" height="1" fill="#c0c0c0"/>
<rect x="401" y="452" width="4" height="1" fill="#c0c0c0"/>
<rect x="405" y="451" width="1" height="1" fill="#c0c0c0"/>
<rect x="406" y="450" width="4" height="1" fill="#c0c0c0"/>
<rect x="410" y="449" width="3" height="1" fill="#c0c0c0"/>
<rect x="413" y="448" width="3" height="1" fill="#c0c0c0"/>
<rect x="416" y="446" width="1" height="3" fill="#c0c0c0"/>
<rect x="417" y="446" width="1" height="1" fill="#c0c0c0"/>
<rect x="418" y="444" width="1" height="3" fill="#c0c0c0"/>
<rect x="419" y="444" width="2" height="1" fill="#c0c0c0"/>
<rect x="421" y="443" width="1" height="1" fill="#c0c0c0"/>
<rect x="422" y="442" width="3" height="1" fill="#c0c0c0"/>
<rect x="425" y="441" width="1" height="1" fill="#c0c0c0"/>
<rect x="426" y="440" width="4" height="1" fill="#c0c0c0"/>
<rect x="430" y="439" width="3" height="1" fill="#c0c0c0"/>
<rect x="433" y="438" width="4" height="1" fill="#c0c0c0"/>
<rect x="437" y="437" width="1" height="1" fill="#c0c0c0"/>
<rect x="438" y="436" width="4" height="1" fill="#c0c0c0"/>
<rect x="442" y="435" width="2" height="1" fill="#c0c0c0"/>
<rect x="444" y="434" width="3" height="1" fill="#c0c0c0"/>
<rect x="447" y="433" width="1" height="1" fill="#c0c0c0"/>
<rect x="448" y="432" width="3" height="1" fill="#c0c0c0"/>
<rect x="451" y="431" width="1" height="1" fill="#c0c0c0"/>
<rect x="452" y="430" width="3" height="1" fill="#c0c0c0"/>
<rect x="455" y="429" width="6" height="1" fill="#c0c0c0"/>
<rect x="461" y="428" width="4" height="1" fill="#c0c0c0"/>
<rect x="465" y="427" width="1" height="1" fill="#c0c0c0"/>
<rect x="466" y="426" width="2" height="1" fill="#c0c0c0"/>
<rect x="468" y="425" width="1" height="1" fill="#c0c0c0"/>
<rect x="469" y="424" width="2" height="1" fill="#c0c0c0"/>
<rect x="471" y="423" width="2" height="1" fill="#c0c0c0"/>
<rect x="473" y="422" width="8" height="1" fill="#c0c0c0"/>
<rect x="481" y="423" width="1" height="1" fill="#c0c0c0"/>
<rect x="482" y="424" width="2" height="1" fill="#c0c0c0"/>
<rect x="484" y="426" width="1" height="1" fill="#c0c0c0"/>
<rect x="485" y="426" width="1" height="3" fill="#c0c0c0"/>
<rect x="486" y="428" width="1" height="1" fill="#c0c0c0"/>
<rect x="487" y="429" width="1" height="3" fill="#c0c0c0"/>
<rect x="488" y="431" width="1" height="3" fill="#c0c0c0"/>
<rect x="489" y="434" width="1" height="1" fill="#c0c0c0"/>
<rect x="490" y="434" width="1" height="3" fill="#c0c0c0"/>
<rect x="491" y="436" width="1" height="3" fill="#c0c0c0"/>
<rect x="492" y="438" width="1" height="3" fill="#c0c0c0"/>
<rect x="493" y="440" width="1" height="1" fill="#c0c0c0"/>
<rect x="494" y="441" width="1" height="3" fill="#c0c0c0"/>
<rect x="495" y="444" width="1" height="1" fill="#c0c0c0"/>
<rect x="496" y="445" width="1" height="1" fill="#c0c0c0"/>
<rect x="497" y="446" width="2" height="1" fill="#c0c0c0"/>
<rect x="499" y="447" width="1" height="1" fill="#c0c0c0"/>
<rect x="500" y="448" width="3" height="1" fill="#c0c0c0"/>
<rect x="503" y="449" width="1" height="1" fill="#c0c0c0"/>
<rect x="504" y="448" width="1" height="1" fill="#c0c0c0"/>
<rect x="505" y="446" width="1" height="1" fill="#c0c0c0"/>
<rect x="506" y="445" width="1" height="1" fill="#c0c0c0"/>
<rect x="507" y="443" width="1" height="3" fill="#c0c0c0"/>
<rect x="508" y="441" width="1" height="3" fill="#c0c0c0"/>
<rect x="509" y="438" width="1" height="4" fill="#c0c0c0"/>
<rect x="510" y="436" width="1" height="3" fill="#c0c0c0"/>
<rect x="511" y="434" width="1" height="3" fill="#c0c0c0"/>
<rect x="512" y="434" width="1" height="1" fill="#c0c0c0"/>
<rect x="513" y="431" width="1" height="3" fill="#c0c0c0"/>
<rect x="514" y="430" width="1" height="1" fill="#c0c0c0"/>
<rect x="515" y="429" width="1" height="1" fill="#c0c0c0"/>
<rect x="516" y="428" width="2" height="1" fill="#c0c0c0"/>
<rect x="518" y="427" width="1" height="1" fill="#c0c0c0"/>
<rect x="519" y="426" width="3" height="1" fill="#c0c0c0"/>
<rect x="522" y="425" width="7" height="1" fill="#c0c0c0"/>
<rect x="529" y="426" width="4" height="1" fill="#c0c0c0"/>
<rect x="533" y="427" width="1" height="1" fill="#c0c0c0"/>
<rect x="534" y="428" width="4" height="1" fill="#c0c0c0"/>
<rect x="538" y="429" width="2" height="1" fill="#c0c0c0"/>
<rect x="540" y="430" width="3" height="1" fill="#c0c0c0"/>
<rect x="543" y="431" width="1" height="1" fill="#c0c0c0"/>
<rect x="544" y="432" width="2" height="1" fill="#c0c0c0"/>
<rect x="546" y="433" width="1" height="1" fill="#c0c0c0"/>
<rect x="547" y="434" width="2" height="1" fill="#c0c0c0"/>
<rect x="549" y="435" width="1" height="1" fill="#c0c0c0"/>
<rect x="550" y="436" width="2" height="1" fill="#c0c0c0"/>
<rect x="552" y="437" width="1" height="1" fill="#c0c0c0"/>
<rect x="553" y="438" width="2" height="1" fill="#c0c0c0"/>
<rect x="555" y="439" width="1" height="1" fill="#c0c0c0"/>
<rect x="556" y="440" width="1" height="1" fill="#c0c0c0"/>
<rect x="557" y="440" width="1" height="3" fill="#c0c0c0"/>
<rect x="558" y="442" width="1" height="1" fill="#c0c0c0"/>
<rect x="559" y="442" width="1" height="3" fill="#c0c0c0"/>
<rect x="560" y="444" width="1" height="1" fill="#c0c0c0"/>
<rect x="561" y="444" width="1" height="3" fill="#c0c0c0"/>
<rect x="562" y="446" width="1" height="1" fill="#c0c0c0"/>
<rect x="563" y="446" width="1" height="3" fill="#c0c0c0"/>
<rect x="564" y="448" width="1" height="1" fill="#c0c0c0"/>
<rect x="565" y="450" width="1" height="1" fill="#c0c0c0"/>
<rect x="566" y="451" width="1" height="1" fill="#c0c0c0"/>
<rect x="567" y="452" width="1" height="1" fill="#c0c0c0"/>
<rect x="568" y="452" width="1" height="3" fill="#c0c0c0"/>
<rect x="569" y="454" width="1" height="1" fill="#c0c0c0"/>
<rect x="570" y="454" width="1" height="3" fill="#c0c0c0"/>
<rect x="571" y="456" width="1" height="1" fill="#c0c0c0"/>
<rect x="572" y="456" width="1" height="3" fill="#c0c0c0"/>
<rect x="573" y="458" width="1" height="1" fill="#c0c0c0"/>
<rect x="574" y="458" width="1" height="3" fill="#c0c0c0"/>
<rect x="575" y="460" width="1" height="1" fill="#c0c0c0"/>
<rect x="576" y="461" width="1" height="1" fill="#c0c0c0"/>
<rect x="577" y="462" width="2" height="1" fill="#c0c0c0"/>
<rect x="579" y="463" width="2" height="1" fill="#c0c0c0"/>
<rect x="581" y="464" width="8" height="1" fill="#c0c0c0"/>
<rect x="589" y="463" width="1" height="1" fill="#c0c0c0"/>
<rect x="590" y="462" width="3" height="1" fill="#c0c0c0"/>
<rect x="593" y="461" width="1" height="1" fill="#c0c0c0"/>
<rect x="594" y="460" width="2" height="1" fill="#c0c0c0"/>
<rect x="596" y="459" width="1" height="1" fill="#c0c0c0"/>
<rect x="597" y="458" width="2" height="1" fill="#c0c0c0"/>
<rect x="599" y="457" width="1" height="1" fill="#c0c0c0"/>
<rect x="600" y="456" width="2" height="1" fill="#c0c0c0"/>
<rect x="602" y="455" width="1" height="1" fill="#c0c0c0"/>
<rect x="603" y="454" width="3" height="1" fill="#c0c0c0"/>
<rect x="606" y="453" width="2" height="1" fill="#c0c0c0"/>
<rect x="608" y="452" width="3" height="1" fill="#c0c0c0"/>
<rect x="611" y="451" width="1" height="1" fill="#c0c0c0"/>
<rect x="612" y="450" width="3" height="1" fill="#c0c0c0"/>
<rect x="615" y="449" width="2" height="1" fill="#c0c0c0"/>
<rect x="617" y="448" width="21" height="1" fill="#c0c0c0"/>
<rect x="638" y="449" width="7" height="1" fill="#c0c0c0"/>
<rect x="645" y="448" width="11" height="1" fill="#c0c0c0"/>
<rect x="656" y="449" width="1" height="1" fill="#c0c0c0"/>
<rect x="657" y="450" width="1" height="1" fill="#c0c0c0"/>
<rect x="658" y="452" width="1" height="1" fill="#c0c0c0"/>
<rect x="659" y="452" width="1" height="3" fill="#c0c0c0"/>
<rect x="660" y="454" width="1" height="1" fill="#c0c0c0"/>
<rect x="661" y="456" width="1" height="1" fill="#c0c0c0"/>
<rect x="662" y="457" width="1" height="1" fill="#c0c0c0"/>
<rect x="663" y="458" width="1" height="1" fill="#c0c0c0"/>
<rect x="664" y="459" width="1" height="1" fill="#c0c0c0"/>
<rect x="665" y="460" width="2" height="1" fill="#c0c0c0"/>
<rect x="667" y="461" width="1" height="1" fill="#c0c0c0"/>
<rect x="0" y="0" width="2" height="500" fill="#fff"/>
<rect x="2" y="2" width="693" height="1" fill="#000"/>
<rect x="2" y="353" width="693" height="1" fill="#000"/>
<rect x="2" y="355" width="693" height="1" fill="#000"/>
<rect x="2" y="478" width="693" height="1" fill="#000"/>
<rect x="2" y="2" width="1" height="352" fill="#000"/>
<rect x="2" y="355" width="1" height="124" fill="#000"/>
<rect x="694" y="2" width="1" height="352" fill="#000"/>
<rect x="694" y="355" width="1" height="124" fill="#000"/>
<g font-family="Liberation Sans, sans-serif" shape-rendering="auto" text-rendering="geometricPrecision" stroke-width="0.15" paint-order="stroke">
<rect x="695" y="53" width="2" height="1" fill="#000" shape-rendering="crispEdges"/>
<text x="700.5" y="57" fill="#000" stroke="#000" font-size="9.3" textLength="32.5" lengthAdjust="spacingAndGlyphs" text-anchor="start" >1.34340</text>
<rect x="695" y="86" width="2" height="1" fill="#000" shape-rendering="crispEdges"/>
<text x="700.5" y="90" fill="#000" stroke="#000" font-size="9.3" textLength="32.5" lengthAdjust="spacingAndGlyphs" text-anchor="start" >1.33880</text>
<rect x="695" y="119" width="2" height="1" fill="#000" shape-rendering="crispEdges"/>
<text x="700.5" y="123" fill="#000" stroke="#000" font-size="9.3" textLength="32.5" lengthAdjust="spacingAndGlyphs" text-anchor="start" >1.33410</text>
<rect x="695" y="152" width="2" height="1" fill="#000" shape-rendering="crispEdges"/>
<text x="700.5" y="156" fill="#000" stroke="#000" font-size="9.3" textLength="32.5" lengthAdjust="spacingAndGlyphs" text-anchor="start" >1.32940</text>
<rect x="695" y="185" width="2" height="1" fill="#000" shape-rendering="crispEdges"/>
<text x="700.5" y="189" fill="#000" stroke="#000" font-size="9.3" textLength="32.5" lengthAdjust="spacingAndGlyphs" text-anchor="start" >1.32470</text>
<rect x="695" y="218" width="2" height="1" fill="#000" shape-rendering="crispEdges"/>
<text x="700.5" y="222" fill="#000" stroke="#000" font-size="9.3" textLength="32.5" lengthAdjust="spacingAndGlyphs" text-anchor="start" >1.32000</text>
<rect x="695" y="251" width="2" height="1" fill="#000" shape-rendering="crispEdges"/>
<text x="700.5" y="255" fill="#000" stroke="#000" font-size="9.3" textLength="32.5" lengthAdjust="spacingAndGlyphs" text-anchor="start" >1.31530</text>
<rect x="695" y="284" width="2" height="1" fill="#000" shape-rendering="crispEdges"/>
<text x="700.5" y="288" fill="#000" stroke="#000" font-size="9.3" textLength="32.5" lengthAdjust="spacingAndGlyphs" text-anchor="start" >1.31060</text>
<rect x="695" y="317" width="2" height="1" fill="#000" shape-rendering="crispEdges"/>
<text x="700.5" y="321" fill="#000" stroke="#000" font-size="9.3" textLength="32.5" lengthAdjust="spacingAndGlyphs" text-anchor="start" >1.30590</text>
<rect x="695" y="350" width="2" height="1" fill="#000" shape-rendering="crispEdges"/>
<text x="700.5" y="354" fill="#000" stroke="#000" font-size="9.3" textLength="32.5" lengthAdjust="spacingAndGlyphs" text-anchor="start" >1.30120</text>
<rect x="695" y="357" width="2" height="1" fill="#000" shape-rendering="crispEdges"/>
<text x="698.5" y="366" fill="#000" stroke="#000" font-size="9.3" textLength="42.5" lengthAdjust="spacingAndGlyphs" text-anchor="start" >0.0073375</text>
<rect x="695" y="417" width="2" height="1" fill="#000" shape-rendering="crispEdges"/>
<text x="698.5" y="421" fill="#000" stroke="#000" font-size="9.3" textLength="17.5" lengthAdjust="spacingAndGlyphs" text-anchor="start" >0.00</text>
<rect x="695" y="478" width="2" height="1" fill="#000" shape-rendering="crispEdges"/>
<text x="698.5" y="477" fill="#000" stroke="#000" font-size="9.3" textLength="45" lengthAdjust="spacingAndGlyphs" text-anchor="start" >-0.0074413</text>
<rect x="695" y="20" width="1" height="1" fill="#ff0000" shape-rendering="crispEdges"/>
<rect x="696" y="14" width="41" height="11" fill="#ff0000" shape-rendering="crispEdges"/>
<text x="700.5" y="23" fill="#fff" stroke="#fff" font-size="9.3" textLength="32.5" lengthAdjust="spacingAndGlyphs" text-anchor="start" >1.34815</text>
<rect x="695" y="76" width="1" height="1" fill="#ff0000" shape-rendering="crispEdges"/>
<rect x="696" y="70" width="41" height="11" fill="#ff0000" shape-rendering="crispEdges"/>
<text x="700.5" y="79" fill="#fff" stroke="#fff" font-size="9.3" textLength="32.5" lengthAdjust="spacingAndGlyphs" text-anchor="start" >1.34020</text>
<rect x="695" y="135" width="1" height="1" fill="#ff0000" shape-rendering="crispEdges"/>
<rect x="696" y="129" width="41" height="11" fill="#ff0000" shape-rendering="crispEdges"/>
<text x="700.5" y="138" fill="#fff" stroke="#fff" font-size="9.3" textLength="32.5" lengthAdjust="spacingAndGlyphs" text-anchor="start" >1.33182</text>
<rect x="695" y="160" width="1" height="1" fill="#ff0000" shape-rendering="crispEdges"/>
<rect x="696" y="154" width="41" height="11" fill="#ff0000" shape-rendering="crispEdges"/>
<text x="700.5" y="163" fill="#fff" stroke="#fff" font-size="9.3" textLength="32.5" lengthAdjust="spacingAndGlyphs" text-anchor="start" >1.32830</text>
<rect x="695" y="241" width="1" height="1" fill="#ff0000" shape-rendering="crispEdges"/>
<rect x="696" y="235" width="41" height="11" fill="#ff0000" shape-rendering="crispEdges"/>
<text x="700.5" y="244" fill="#fff" stroke="#fff" font-size="9.3" textLength="32.5" lengthAdjust="spacingAndGlyphs" text-anchor="start" >1.31674</text>
<rect x="696" y="317" width="41" height="11" fill="#000" shape-rendering="crispEdges"/>
<text x="700.5" y="326" fill="#fff" stroke="#fff" font-size="9.3" textLength="32.5" lengthAdjust="spacingAndGlyphs" text-anchor="start" >1.30527</text>
<rect x="695" y="344" width="1" height="1" fill="#ff0000" shape-rendering="crispEdges"/>
<rect x="696" y="338" width="41" height="11" fill="#ff0000" shape-rendering="crispEdges"/>
<text x="700.5" y="347" fill="#fff" stroke="#fff" font-size="9.3" textLength="32.5" lengthAdjust="spacingAndGlyphs" text-anchor="start" >1.30217</text>
<path d="M6 9h7l-3.5 4z" fill="#000" shape-rendering="crispEdges"/>
<text x="18" y="14" fill="#000" stroke="#000" font-size="9.3" textLength="201" lengthAdjust="spacingAndGlyphs" text-anchor="start" xml:space="preserve">GBPUSD,H1  1.30567 1.30660 1.30446 1.30527</text>
<text x="7" y="368" fill="#000" stroke="#000" font-size="9.3" textLength="241" lengthAdjust="spacingAndGlyphs" text-anchor="start" >MACD_color(5,32,5) 0.00000000 0.00000000 -0.00547678</text>
<rect x="3" y="479" width="1" height="3" fill="#000" shape-rendering="crispEdges"/>
<text x="2" y="492" fill="#000" stroke="#000" font-size="9.3" textLength="53" lengthAdjust="spacingAndGlyphs" text-anchor="start" >28 Aug 2020</text>
<rect x="67" y="479" width="1" height="3" fill="#000" shape-rendering="crispEdges"/>
<text x="66" y="492" fill="#000" stroke="#000" font-size="9.3" textLength="56" lengthAdjust="spacingAndGlyphs" text-anchor="start" >31 Aug 06:00</text>
<rect x="131" y="479" width="1" height="3" fill="#000" shape-rendering="crispEdges"/>
<text x="130" y="492" fill="#000" stroke="#000" font-size="9.3" textLength="56" lengthAdjust="spacingAndGlyphs" text-anchor="start" >31 Aug 22:00</text>
<rect x="195" y="479" width="1" height="3" fill="#000" shape-rendering="crispEdges"/>
<text x="194" y="492" fill="#000" stroke="#000" font-size="9.3" textLength="50" lengthAdjust="spacingAndGlyphs" text-anchor="start" >1 Sep 14:00</text>
<rect x="259" y="479" width="1" height="3" fill="#000" shape-rendering="crispEdges"/>
<text x="258" y="492" fill="#000" stroke="#000" font-size="9.3" textLength="50" lengthAdjust="spacingAndGlyphs" text-anchor="start" >2 Sep 06:00</text>
<rect x="323" y="479" width="1" height="3" fill="#000" shape-rendering="crispEdges"/>
<text x="322" y="492" fill="#000" stroke="#000" font-size="9.3" textLength="50" lengthAdjust="spacingAndGlyphs" text-anchor="start" >2 Sep 22:00</text>
<rect x="387" y="479" width="1" height="3" fill="#000" shape-rendering="crispEdges"/>
<text x="386" y="492" fill="#000" stroke="#000" font-size="9.3" textLength="50" lengthAdjust="spacingAndGlyphs" text-anchor="start" >3 Sep 14:00</text>
<rect x="451" y="479" width="1" height="3" fill="#000" shape-rendering="crispEdges"/>
<text x="450" y="492" fill="#000" stroke="#000" font-size="9.3" textLength="50" lengthAdjust="spacingAndGlyphs" text-anchor="start" >4 Sep 06:00</text>
<rect x="515" y="479" width="1" height="3" fill="#000" shape-rendering="crispEdges"/>
<text x="514" y="492" fill="#000" stroke="#000" font-size="9.3" textLength="50" lengthAdjust="spacingAndGlyphs" text-anchor="start" >4 Sep 22:00</text>
<rect x="579" y="479" width="1" height="3" fill="#000" shape-rendering="crispEdges"/>
<text x="578" y="492" fill="#000" stroke="#000" font-size="9.3" textLength="50" lengthAdjust="spacingAndGlyphs" text-anchor="start" >7 Sep 15:00</text>
<rect x="643" y="479" width="1" height="3" fill="#000" shape-rendering="crispEdges"/>
<text x="642" y="492" fill="#000" stroke="#000" font-size="9.3" textLength="50" lengthAdjust="spacingAndGlyphs" text-anchor="start" >8 Sep 07:00</text>
</g>
</svg>
</body></html>
